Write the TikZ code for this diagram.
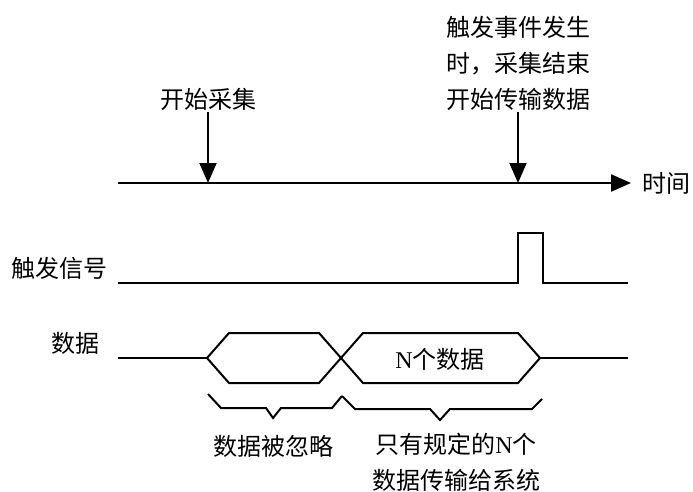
\documentclass[tikz,border=0pt]{standalone}
\usepackage{fontspec}
\setmainfont{Liberation Serif}
\newfontfamily\cjk{Noto Sans CJK SC}
\usetikzlibrary{arrows.meta}

\begin{document}
\begin{tikzpicture}[x=1pt,y=-1pt]
      \tikzset{txt/.style = {font={\cjk\fontsize{24pt}{36pt}\selectfont},inner sep=1pt,align=center}}
      \tikzset{edge/.style = {->,line width=2pt,> = {Triangle[length=20pt,width=17pt]}}}
      \tikzset{sig/.style = {line width=2pt,line join=miter}}
      \useasboundingbox (0,0) rectangle (693,492);

      % time axis
      \coordinate (t0) at (118,183);
      \coordinate (t1) at (208,183);
      \coordinate (t2) at (518,183);
      \coordinate (t3) at (631,183);
      \node[txt,anchor=south] (1) at (208,112) {开始采集};
      \node[txt,anchor=south] (2) at (518,112) {触发事件发生\\时，采集结束\\开始传输数据};
      \node[txt,anchor=west] (3) at (641,183) {时间};
      \draw[edge,line width=2.4pt] (t0) to (t3);
      \draw[edge] (1) to (t1);
      \draw[edge] (2) to (t2);

      % trigger signal
      \node[txt] (4) at (60,268) {触发信号};
      \draw[sig] (118,283) -- (518,283) -- (518,233) -- (543,233) -- (543,283) -- (628,283);

      % data
      \node[txt] (5) at (75,343) {数据};
      \draw[sig] (207,358) -- (229,333) -- (319,333) -- (363,383) -- (518,383) -- (540,358)
                 -- (518,333) -- (363,333) -- (319,383) -- (229,383) -- cycle;
      \draw[sig] (118,358) -- (207,358);
      \draw[sig] (540,358) -- (628,358);
      \node[txt] (6) at (440,359) {\textrm{N}个数据};

      % braces
      \draw[sig] (208,394) -- (221,408) -- (266,408) -- (273,418) -- (281,408) -- (332,408) -- (342,396);
      \draw[sig] (342,396) -- (355,409) -- (430,409) -- (440,420) -- (450,409) -- (532,409) -- (542,399);
      \node[txt] (7) at (273,446) {数据被忽略};
      \node[txt,anchor=north] (8) at (456,432) {只有规定的\textrm{N}个\\数据传输给系统};
\end{tikzpicture}
\end{document}
